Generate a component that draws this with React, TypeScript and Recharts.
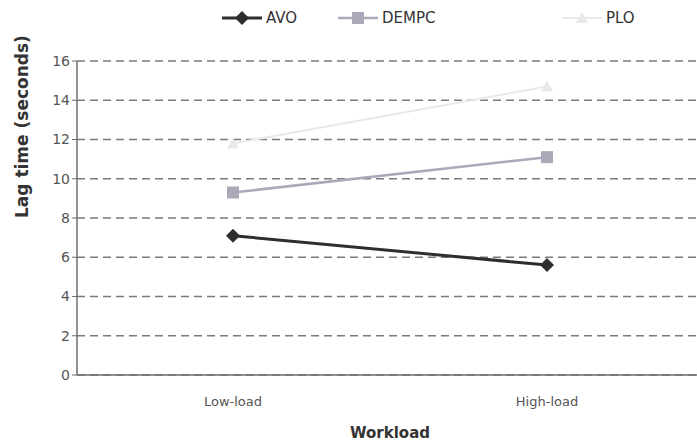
import { LineChart, Line, XAxis, YAxis, CartesianGrid, Legend } from 'recharts'

const workloads = ['Low-load', 'High-load']
const avo = [7.1, 5.6]
const dempc = [9.3, 11.1]
const plo = [11.8, 14.7]
const yTicks = [0, 2, 4, 6, 8, 10, 12, 14, 16]

const series = [
  { key: 'AVO', values: avo, color: '#2e2e2e', width: 3, shape: 'diamond' },
  { key: 'DEMPC', values: dempc, color: '#a9a9ba', width: 2.5, shape: 'square' },
  { key: 'PLO', values: plo, color: '#e9e9e9', width: 2, shape: 'triangle' }
]

const data = workloads.map((w, i) => ({
  workload: w,
  AVO: avo[i],
  DEMPC: dempc[i],
  PLO: plo[i]
}))

function Marker({ cx, cy, shape, color }: { cx: number; cy: number; shape: string; color: string }) {
  if (cx == null || cy == null) return null
  if (shape === 'diamond') {
    return <polygon points={`${cx},${cy - 7} ${cx + 7},${cy} ${cx},${cy + 7} ${cx - 7},${cy}`} fill={color} />
  }
  if (shape === 'square') {
    return <rect x={cx - 6} y={cy - 6} width={12} height={12} fill={color} />
  }
  return <polygon points={`${cx},${cy - 6} ${cx + 6},${cy + 5} ${cx - 6},${cy + 5}`} fill={color} />
}

const legendX = [222, 338, 562]

function TopLegend() {
  return (
    <div style={{ position: 'relative', width: 697, height: 36 }}>
      {series.map((s, i) => (
        <div
          key={s.key}
          style={{ position: 'absolute', left: legendX[i], top: 8, display: 'flex', alignItems: 'center' }}
        >
          <svg width={40} height={20}>
            <line x1={0} y1={10} x2={40} y2={10} stroke={s.color} strokeWidth={s.width} />
            <Marker cx={20} cy={10} shape={s.shape} color={s.color} />
          </svg>
          <span style={{ marginLeft: 4, fontSize: 15, color: '#333', fontFamily: 'DejaVu Sans' }}>{s.key}</span>
        </div>
      ))}
    </div>
  )
}

export default function App() {
  return (
    <div style={{ position: 'absolute', left: 0, top: 0, width: 697, height: 444, overflow: 'hidden', background: '#fff' }}>
      <LineChart
        width={711}
        height={444}
        data={data}
        margin={{ top: 25, right: 8, bottom: 0, left: 0 }}
        style={{ fontFamily: 'DejaVu Sans' }}
      >
        <CartesianGrid vertical={false} stroke="#7a7a7a" strokeDasharray="8 5" strokeWidth={1.5} />
        <XAxis
          dataKey="workload"
          height={69}
          padding={{ left: 156, right: 156 }}
          axisLine={{ stroke: '#6e6e6e', strokeWidth: 1.5 }}
          tickLine={false}
          tick={{ fill: '#555', fontSize: 13 }}
          tickMargin={16}
          label={{ value: 'Workload', position: 'insideBottom', offset: 6, fill: '#333', fontSize: 15, fontWeight: 'bold' }}
        />
        <YAxis
          width={77}
          domain={[0, 16]}
          ticks={yTicks}
          interval={0}
          axisLine={{ stroke: '#6e6e6e', strokeWidth: 1.5 }}
          tickLine={{ stroke: '#6e6e6e' }}
          tickSize={5}
          tick={{ fill: '#555', fontSize: 14 }}
          label={{ value: 'Lag time (seconds)', angle: -90, position: 'insideLeft', offset: 22, fill: '#333', fontSize: 17, fontWeight: 'bold' }}
        />
        <Legend verticalAlign="top" height={36} content={<TopLegend />} wrapperStyle={{ left: 0, top: 0, width: 697 }} />
        {series.map(s => (
          <Line
            key={s.key}
            dataKey={s.key}
            stroke={s.color}
            strokeWidth={s.width}
            isAnimationActive={false}
            dot={(p: any) => <Marker key={`${s.key}-${p.index}`} cx={p.cx} cy={p.cy} shape={s.shape} color={s.color} />}
            activeDot={false}
          />
        ))}
      </LineChart>
    </div>
  )
}
